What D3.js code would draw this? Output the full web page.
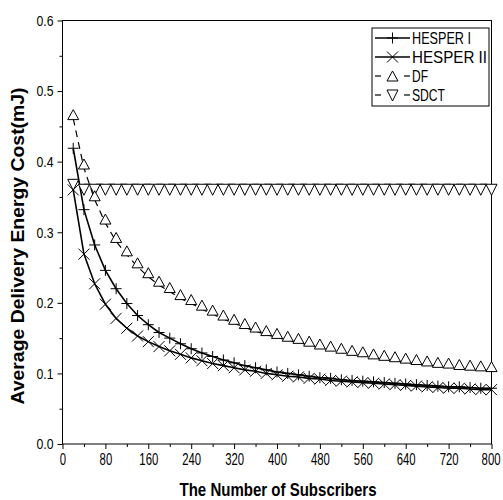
<!DOCTYPE html>
<html>
<head>
<meta charset="utf-8">
<script src="https://cdn.jsdelivr.net/npm/d3@7"></script>
<style>
  body { margin: 0; background: #fff; }
  svg { display: block; }
  text { font-family: "Liberation Sans", Arial, sans-serif; }
</style>
</head>
<body>
<svg id="chart" width="503" height="500"></svg>
<script>
const subscribers = [20,40,60,80,100,120,140,160,180,200,220,240,260,280,300,320,340,360,380,400,
                     420,440,460,480,500,520,540,560,580,600,620,640,660,680,700,720,740,760,780,800];
const hesper1 = [0.419,0.332,0.282,0.246,0.220,0.199,0.182,0.169,0.158,0.150,0.142,0.135,0.129,0.124,0.119,0.115,0.111,0.108,0.105,0.102,
                 0.100,0.098,0.096,0.094,0.093,0.091,0.090,0.089,0.088,0.087,0.086,0.085,0.084,0.083,0.082,0.081,0.081,0.080,0.079,0.079];
const hesper2 = [0.360,0.269,0.227,0.198,0.178,0.164,0.153,0.145,0.138,0.132,0.127,0.122,0.118,0.114,0.111,0.108,0.105,0.103,0.100,0.098,
                 0.096,0.095,0.093,0.092,0.090,0.089,0.088,0.087,0.086,0.085,0.084,0.083,0.082,0.081,0.080,0.079,0.079,0.078,0.077,0.077];
const df      = [0.461,0.391,0.346,0.313,0.287,0.268,0.251,0.237,0.225,0.216,0.206,0.199,0.191,0.184,0.177,0.171,0.165,0.160,0.155,0.151,
                 0.147,0.144,0.140,0.136,0.133,0.130,0.127,0.125,0.122,0.120,0.118,0.116,0.114,0.112,0.110,0.109,0.107,0.106,0.105,0.104];
const sdct    = [0.375,0.368,0.368,0.368,0.368,0.368,0.368,0.368,0.368,0.368,0.368,0.368,0.368,0.368,0.368,0.368,0.368,0.368,0.368,0.368,
                 0.368,0.368,0.368,0.368,0.368,0.368,0.368,0.368,0.368,0.368,0.368,0.368,0.368,0.368,0.368,0.368,0.368,0.368,0.368,0.368];
const seriesNames = ["HESPER I", "HESPER II", "DF", "SDCT"];
const xTicks = [0,80,160,240,320,400,480,560,640,720,800];
const yTicks = [0.0,0.1,0.2,0.3,0.4,0.5,0.6];
const xTitle = "The Number of Subscribers";
const yTitle = "Average Delivery Energy Cost(mJ)";

const svg = d3.select("#chart");
const L = 62.5, R = 491.5, T = 20.5, B = 444;
const x = d3.scaleLinear().domain([0, 800]).range([L, R]);
const y = d3.scaleLinear().domain([0, 0.6]).range([B, T]);

// frame
svg.append("rect").attr("x", L).attr("y", T).attr("width", R - L).attr("height", B - T)
  .attr("fill", "none").attr("stroke", "#000").attr("stroke-width", 1);

// x axis (labels horizontally condensed)
const sx = 0.667;
const xAxis = svg.append("g").attr("transform", `translate(0,${B})`)
  .call(d3.axisBottom(x).tickValues(xTicks).tickFormat(d3.format("d")).tickSizeInner(5).tickSizeOuter(0));
xAxis.select(".domain").remove();
xAxis.selectAll("text").attr("font-size", 17).attr("fill", "#000").attr("dy", "0.74em")
  .attr("transform", `scale(${sx},1)`);
xAxis.selectAll("text").filter(d => d === 800).attr("text-anchor", "end").attr("x", 8.5 / sx);
const xMinor = svg.append("g").attr("transform", `translate(0,${B})`)
  .call(d3.axisBottom(x).tickValues(d3.range(40, 800, 80)).tickFormat("").tickSizeInner(3).tickSizeOuter(0));
xMinor.select(".domain").remove();

// y axis
const yAxis = svg.append("g").attr("transform", `translate(${L},0)`)
  .call(d3.axisLeft(y).tickValues(yTicks).tickFormat(d3.format(".1f")).tickSizeInner(5).tickSizeOuter(0));
yAxis.select(".domain").remove();
yAxis.selectAll("text").attr("font-size", 15).attr("fill", "#000").attr("dx", "-1")
  .attr("textLength", 17).attr("lengthAdjust", "spacingAndGlyphs");
const yMinor = svg.append("g").attr("transform", `translate(${L},0)`)
  .call(d3.axisLeft(y).tickValues([0.05,0.15,0.25,0.35,0.45,0.55]).tickFormat("").tickSizeInner(3).tickSizeOuter(0));
yMinor.select(".domain").remove();
svg.selectAll(".tick line").attr("stroke", "#000");

// titles
svg.append("text").attr("x", 278).attr("y", 496).attr("text-anchor", "middle")
  .attr("font-weight", "bold").attr("font-size", 19)
  .attr("textLength", 197).attr("lengthAdjust", "spacingAndGlyphs").text(xTitle);
svg.append("text").attr("transform", "translate(24,246) rotate(-90)").attr("text-anchor", "middle")
  .attr("font-weight", "bold").attr("font-size", 18)
  .attr("textLength", 317).attr("lengthAdjust", "spacingAndGlyphs").text(yTitle);

// lines
const pts = arr => subscribers.map((s, i) => [x(s), y(arr[i])]);
const line = d3.line();
const plot = svg.append("g");
plot.append("path").attr("d", line(pts(df))).attr("fill", "none").attr("stroke", "#000").attr("stroke-width", 1.2).attr("stroke-dasharray", "7,5");
plot.append("path").attr("d", line(pts(sdct))).attr("fill", "none").attr("stroke", "#000").attr("stroke-width", 1.2).attr("stroke-dasharray", "7,5");
plot.append("path").attr("d", line(pts(hesper1))).attr("fill", "none").attr("stroke", "#000").attr("stroke-width", 1.6);
plot.append("path").attr("d", line(pts(hesper2))).attr("fill", "none").attr("stroke", "#000").attr("stroke-width", 1.6);

// marker painters
const m = 5.5;
function plus(g) { g.append("path").attr("d", `M${-m},0H${m}M0,${-m}V${m}`).attr("stroke", "#000").attr("stroke-width", 1).attr("fill", "none"); }
function cross(g) { g.append("path").attr("d", `M${-m},${-m}L${m},${m}M${-m},${m}L${m},${-m}`).attr("stroke", "#000").attr("stroke-width", 1).attr("fill", "none"); }
function up(g) { g.append("path").attr("d", `M${-m},1L${m},1L0,-9Z`).attr("stroke", "#000").attr("stroke-width", 1).attr("fill", "#fff"); }
function down(g) { g.append("path").attr("d", `M${-m},0L${m},0L0,11Z`).attr("stroke", "#000").attr("stroke-width", 1).attr("fill", "#fff"); }

function markers(arr, painter) {
  subscribers.forEach((s, i) => {
    const g = plot.append("g").attr("transform", `translate(${x(s)},${y(arr[i])})`);
    painter(g);
  });
}
markers(sdct, down);
markers(df, up);
markers(hesper2, cross);
markers(hesper1, plus);

// legend
const lg = svg.append("g");
lg.append("rect").attr("x", 372).attr("y", 28).attr("width", 117).attr("height", 78)
  .attr("fill", "#fff").attr("stroke", "#000").attr("stroke-width", 1);
const painters = [plus, cross, up, down];
const rowsY = [38, 57, 76, 95];
const legendW = [59, 75, 16, 33];
seriesNames.forEach((name, i) => {
  const cy = rowsY[i];
  if (i < 2) {
    lg.append("line").attr("x1", 375).attr("x2", 410).attr("y1", cy).attr("y2", cy).attr("stroke", "#000").attr("stroke-width", 1.6);
  } else {
    lg.append("line").attr("x1", 375).attr("x2", 381).attr("y1", cy).attr("y2", cy).attr("stroke", "#000").attr("stroke-width", 1.2);
    lg.append("line").attr("x1", 404).attr("x2", 410).attr("y1", cy).attr("y2", cy).attr("stroke", "#000").attr("stroke-width", 1.2);
  }
  const g = lg.append("g").attr("transform", `translate(392.5,${i === 2 ? cy + 4 : i === 3 ? cy - 5 : cy})`);
  painters[i](g);
  lg.append("text").attr("x", 412).attr("y", cy + 6).attr("font-size", 17)
    .attr("textLength", legendW[i]).attr("lengthAdjust", "spacingAndGlyphs").text(name);
});
</script>
</body>
</html>
